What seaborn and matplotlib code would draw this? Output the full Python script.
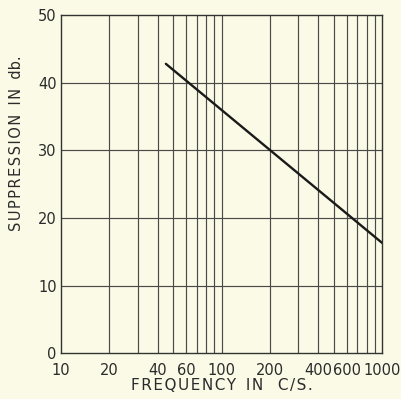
import numpy as np
import pandas as pd
import seaborn as sns
import matplotlib
matplotlib.use("Agg")
import matplotlib.pyplot as plt
from matplotlib.ticker import FixedLocator, NullFormatter, NullLocator

# datos
frecuencia = [45, 1000]
supresion = [42.8, 16.3]

x_ticks = [10, 20, 40, 60, 100, 200, 400, 600, 1000]
x_ticklabels = ["10", "20", "40", "60", "100", "200", "400", "600", "1000"]
x_grid = [20, 30, 40, 50, 60, 70, 80, 90, 100, 200, 300, 400, 500, 600, 700, 800, 900]
y_ticks = [0, 10, 20, 30, 40, 50]

fondo = "#fafae6"
tinta = "#2b2b2b"

sns.set_style("white")
plt.rcParams['font.family'] = ['DejaVu Sans']

df = pd.DataFrame({"freq": frecuencia, "supp": supresion})

def espaciar(txt):
    # separa las letras con un espacio fino (como en el original)
    return "\u200a".join(txt)

fig = plt.figure(figsize=(4.01, 3.99), dpi=100, facecolor=fondo)
ax = fig.add_axes([0.152, 0.115, 0.801, 0.847])
ax.set_facecolor(fondo)

sns.lineplot(data=df, x="freq", y="supp", ax=ax, color="#1a1a1a", linewidth=1.7)

ax.set_xscale("log")
ax.set_xlim(10, 1000)
ax.set_ylim(0, 50)

# rejilla
for g in x_grid:
    ax.axvline(g, color="#4a4a4a", linewidth=0.85, zorder=0)
for g in y_ticks[1:-1]:
    ax.axhline(g, color="#4a4a4a", linewidth=0.85, zorder=0)

ax.xaxis.set_major_locator(FixedLocator(x_ticks))
ax.set_xticklabels(x_ticklabels)
ax.xaxis.set_minor_locator(NullLocator())
ax.xaxis.set_minor_formatter(NullFormatter())
ax.set_yticks(y_ticks)
ax.tick_params(axis="both", length=0, labelsize=10.5, colors=tinta)
ax.tick_params(axis="x", pad=7)
ax.tick_params(axis="y", pad=3)

for s in ax.spines.values():
    s.set_visible(True)
    s.set_color("#333333")
    s.set_linewidth(1.0)

ax.set_xlabel(espaciar("FREQUENCY") + "  " + espaciar("IN") + "   " + espaciar("C/S."),
              fontsize=11, color=tinta, labelpad=0)
ax.set_ylabel(espaciar("SUPPRESSION") + "  " + espaciar("IN") + "  " + "db.",
              fontsize=10.5, color=tinta)
ax.yaxis.set_label_coords(-0.115, 0.62)

fig.savefig("out.png", dpi=100, facecolor=fondo)
